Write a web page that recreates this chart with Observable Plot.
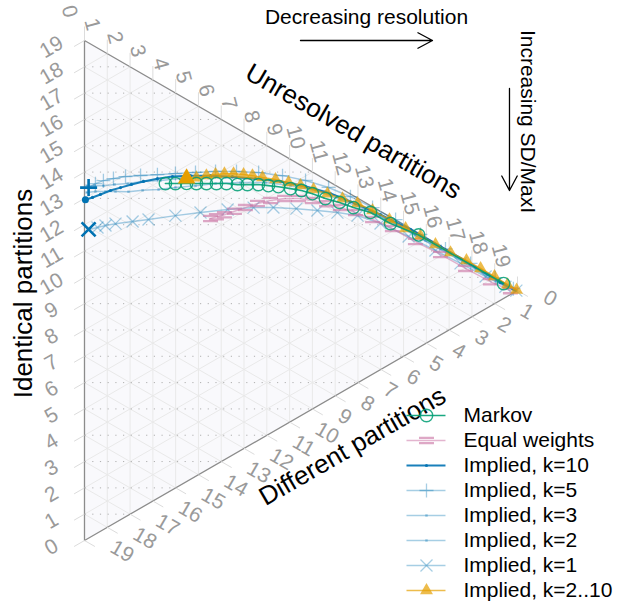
<!DOCTYPE html>
<html><head><meta charset="utf-8">
<script src="https://cdn.jsdelivr.net/npm/d3@7"></script>
<script src="https://cdn.jsdelivr.net/npm/@observablehq/plot@0.6"></script>
<style>body{margin:0;background:#fff}#chart{width:617px;height:605px}</style>
</head><body><div id="chart"></div>
<script>
// ---- data (ternary counts out of 19: Identical, Unresolved; Different = 19 - both) ----
const TOTAL = 19;
const tickValues = [0,1,2,3,4,5,6,7,8,9,10,11,12,13,14,15,16,17,18,19];

const markovIdentical  = [11.79,11.57,11.33,11.11,10.89,10.67,10.45,10.17,9.95,9.71,9.45,9.19,8.85,8.54,8.18,7.71,7.25,6.75,6.19,5.33,4.28,0.57];
const markovUnresolved = [3.55,3.99,4.48,4.91,5.35,5.79,6.23,6.71,7.15,7.63,8.07,8.51,9.04,9.52,10.00,10.57,11.19,11.80,12.55,13.43,14.66,18.39];

const equalIdentical  = [9.47,9.41,9.31,9.22,9.12,9.01,8.84,8.61,8.30,7.92,7.49,7.04,6.52,5.88,5.10,4.10,3.06,1.98,0.93,0.15];
const equalUnresolved = [5.53,5.79,6.14,6.58,7.06,7.59,8.16,8.78,9.39,10.00,10.62,11.23,11.89,12.64,13.51,14.52,15.62,16.72,17.81,18.69];

const k10Identical  = [12.93,12.86,12.80,12.73,12.62,12.50,12.35,12.15,11.90,11.54,11.10,10.58,10.00,9.34,8.60,7.79,6.86,5.89,4.66,3.36,2.02,0.68,0.10];
const k10Unresolved = [0.04,0.35,0.70,1.14,1.58,2.06,2.59,3.20,3.86,4.65,5.53,6.49,7.50,8.60,9.70,10.79,11.89,12.99,14.31,15.62,16.94,18.25,18.87];

const k5Identical  = [13.32,13.32,13.26,13.12,12.93,12.64,12.30,11.95,11.55,11.15,10.69,10.16,9.52,8.83,8.06,7.23,6.33,5.37,4.26,3.16,2.06,0.97,0.16];
const k5Unresolved = [0.18,0.48,0.83,1.27,1.80,2.46,3.20,3.99,4.87,5.75,6.67,7.64,8.69,9.70,10.71,11.67,12.64,13.65,14.74,15.84,16.94,18.03,18.82];

const k3Identical  = [13.18,13.02,12.80,12.58,12.29,12.03,11.71,11.42,11.05,10.69,10.18,9.63,8.97,8.23,7.34,6.41,5.41,4.33,3.25,2.17,1.05,0.15];
const k3Unresolved = [0.09,0.48,0.92,1.36,1.93,2.55,3.25,3.99,4.87,5.75,6.85,7.94,9.04,10.14,11.23,12.33,13.43,14.52,15.62,16.72,17.82,18.78];

const k2Identical  = [13.44,13.27,13.07,12.87,12.62,12.37,12.01,11.65,11.20,10.70,10.11,9.49,8.79,7.97,7.04,6.04,5.00,3.92,2.84,1.76,0.68,0.06];
const k2Unresolved = [0.09,0.44,0.83,1.32,1.89,2.55,3.34,4.21,5.18,6.19,7.28,8.38,9.48,10.58,11.67,12.77,13.87,14.96,16.06,17.16,18.25,18.87];

const k1Identical  = [11.73,11.61,11.51,11.36,11.07,10.79,10.35,9.92,9.44,8.94,8.51,7.96,7.43,6.91,6.36,5.55,4.44,3.32,2.28,1.23,0.41,0.02];
const k1Unresolved = [0.18,0.57,0.92,1.36,2.11,2.81,3.99,5.09,6.28,7.42,8.29,9.30,10.22,11.10,11.98,12.99,14.22,15.40,16.50,17.60,18.47,18.95];

const kAllIdentical  = [11.52,11.33,11.19,11.03,10.87,10.67,10.42,10.18,9.89,9.53,9.13,8.75,8.31,7.85,7.33,6.82,6.22,5.50,4.81,4.21,3.55,2.91,2.26,1.65,1.04,0.44,0.04];
const kAllUnresolved = [4.48,4.91,5.35,5.75,6.14,6.54,6.98,7.37,7.81,8.38,8.95,9.48,10.05,10.66,11.32,11.98,12.64,13.38,14.09,14.74,15.40,16.06,16.76,17.38,17.99,18.56,18.96];

const axisTitles = ["Identical partitions", "Unresolved partitions", "Different partitions"];
const annotations = ["Decreasing resolution", "Increasing SD/MaxI"];

// ---- geometry helpers ----
const S = Math.sqrt(3) / 2;
const W = TOTAL * S;
const proj = (a, b) => ({x: b * S, y: a + b / 2});
// layout (pixel) helpers for annotations / legend
const X0 = 84, Y0 = 540, K = 500 / TOTAL;
const ix = px => (px - X0) / K, iy = py => (Y0 - py) / K;

const BLUE = "#0072B2", GREEN = "#009E73", PINK = "#CC79A7", ORANGE = "#E69F00";
const eqSymbol = {draw(ctx) { const w = 7.5, h = 2.6; ctx.moveTo(-w, -h); ctx.lineTo(w, -h); ctx.moveTo(-w, h); ctx.lineTo(w, h); }};
const plusSymbol = (half) => ({draw(ctx) { ctx.moveTo(-half, 0); ctx.lineTo(half, 0); ctx.moveTo(0, -half); ctx.lineTo(0, half); }});
const timesSymbol = (half) => ({draw(ctx) { ctx.moveTo(-half, -half); ctx.lineTo(half, half); ctx.moveTo(-half, half); ctx.lineTo(half, -half); }});

const styles = {
  "Markov":          {ident: markovIdentical, unres: markovUnresolved, color: GREEN, lo: 0.9, lw: 1.6, symbol: "circle", r: 6.2, fill: false, mo: 0.85, mw: 1.4},
  "Equal weights":   {ident: equalIdentical, unres: equalUnresolved, color: PINK, lo: 0.55, lw: 1.5, symbol: eqSymbol, r: 4, fill: false, mo: 0.65, mw: 2.3},
  "Implied, k=10":   {ident: k10Identical, unres: k10Unresolved, color: BLUE, lo: 0.9, lw: 2, symbol: "circle", r: 1.6, fill: true, mo: 0.9, start: {symbol: "circle", r: 3.5, fill: true, w: 0}},
  "Implied, k=5":    {ident: k5Identical, unres: k5Unresolved, color: BLUE, lo: 0.35, lw: 1.5, symbol: plusSymbol(7), r: 4, fill: false, mo: 0.35, mw: 1.3, start: {symbol: plusSymbol(8.5), r: 4, fill: false, w: 2.6}},
  "Implied, k=3":    {ident: k3Identical, unres: k3Unresolved, color: BLUE, lo: 0.35, lw: 1.5, symbol: "square", r: 1.4, fill: true, mo: 0.35},
  "Implied, k=2":    {ident: k2Identical, unres: k2Unresolved, color: BLUE, lo: 0.35, lw: 1.5, symbol: "square", r: 1.4, fill: true, mo: 0.35},
  "Implied, k=1":    {ident: k1Identical, unres: k1Unresolved, color: BLUE, lo: 0.35, lw: 1.5, symbol: timesSymbol(6), r: 4, fill: false, mo: 0.35, mw: 1.3, start: {symbol: timesSymbol(7), r: 4, fill: false, w: 2.6}},
  "Implied, k=2..10":{ident: kAllIdentical, unres: kAllUnresolved, color: ORANGE, lo: 0.7, lw: 1.5, symbol: "triangle", r: 4.8, fill: true, mo: 0.7, start: {symbol: "triangle", r: 6.5, fill: true, w: 0}}
};
const drawOrder = ["Implied, k=1","Implied, k=2","Implied, k=3","Implied, k=5","Implied, k=10","Equal weights","Implied, k=2..10","Markov"];
const legendOrder = ["Markov","Equal weights","Implied, k=10","Implied, k=5","Implied, k=3","Implied, k=2","Implied, k=1","Implied, k=2..10"];

const dotOpts = (st, op, w) => st.fill
  ? {fill: st.color, fillOpacity: op, stroke: "none"}
  : {fill: "none", stroke: st.color, strokeOpacity: op, strokeWidth: w};

const marks = [];
// triangle background
marks.push(Plot.areaY([{x: 0, y1: 0, y2: TOTAL}, {x: W, y1: TOTAL / 2, y2: TOTAL / 2}], {x: "x", y1: "y1", y2: "y2", fill: "#f9f9fc"}));
// grid lines
const inner = tickValues.filter(k => k > 0 && k < TOTAL);
const gridStyle = {stroke: "#e9e9e9", strokeWidth: 1};
marks.push(Plot.link(inner, {x1: k => proj(k, 0).x, y1: k => proj(k, 0).y, x2: k => proj(k, TOTAL - k).x, y2: k => proj(k, TOTAL - k).y, ...gridStyle}));
marks.push(Plot.link(inner, {x1: k => proj(0, k).x, y1: k => proj(0, k).y, x2: k => proj(TOTAL - k, k).x, y2: k => proj(TOTAL - k, k).y, ...gridStyle}));
marks.push(Plot.link(inner, {x1: k => proj(TOTAL - k, 0).x, y1: k => proj(TOTAL - k, 0).y, x2: k => proj(0, TOTAL - k).x, y2: k => proj(0, TOTAL - k).y, ...gridStyle}));
// horizontal dotted lines
marks.push(Plot.link(inner, {x1: 0, y1: k => k, x2: k => (k <= TOTAL / 2 ? k : TOTAL - k) * Math.sqrt(3), y2: k => k, stroke: "#b0b0b0", strokeWidth: 1, strokeDasharray: "1.2,6.5"}));
// outline
marks.push(Plot.line([proj(TOTAL, 0), proj(0, TOTAL), proj(0, 0), proj(TOTAL, 0)], {x: "x", y: "y", stroke: "#8c8c8c", strokeWidth: 1.3}));
// ticks
const TL = 12 / K, TT = 14 / K;
const tickStyle = {stroke: "#dcdcdc", strokeWidth: 1};
marks.push(Plot.link(tickValues, {x1: 0, y1: k => k, x2: -S * TL, y2: k => k - 0.5 * TL, ...tickStyle}));
marks.push(Plot.link(tickValues, {x1: k => k * S, y1: k => TOTAL - k / 2, x2: k => k * S, y2: k => TOTAL - k / 2 + TT, ...tickStyle}));
marks.push(Plot.link(tickValues, {x1: k => (TOTAL - k) * S, y1: k => (TOTAL - k) / 2, x2: k => (TOTAL - k) * S + S * TL, y2: k => (TOTAL - k) / 2 - 0.5 * TL, ...tickStyle}));
// tick labels
const tickText = {fill: "#9a9a9a", fontSize: 21, text: d => String(d)};
marks.push(Plot.text(tickValues, {x: 0, y: k => k, dx: -33, dy: 6.5, rotate: -30, textAnchor: "middle", ...tickText}));
marks.push(Plot.text(tickValues, {x: k => k * S, y: k => TOTAL - k / 2, dx: -13.5, dy: -23.5, rotate: 75, textAnchor: "end", ...tickText}));
marks.push(Plot.text(tickValues, {x: k => (TOTAL - k) * S, y: k => (TOTAL - k) / 2, dx: 27.5, dy: 5, rotate: 30, textAnchor: "start", ...tickText}));

// series
for (const name of drawOrder) {
  const st = styles[name];
  const pts = st.ident.map((a, i) => proj(a, st.unres[i]));
  marks.push(Plot.line(pts, {x: "x", y: "y", stroke: st.color, strokeOpacity: st.lo, strokeWidth: st.lw}));
  marks.push(Plot.dot(pts, {x: "x", y: "y", symbol: st.symbol, r: st.r, ...dotOpts(st, st.mo, st.mw)}));
}
for (const name of drawOrder) {
  const st = styles[name];
  if (!st.start) continue;
  const p0 = [proj(st.ident[0], st.unres[0])];
  const s = st.start;
  marks.push(Plot.dot(p0, {x: "x", y: "y", symbol: s.symbol, r: s.r, ...(s.fill ? {fill: st.color, stroke: "none"} : {fill: "none", stroke: st.color, strokeWidth: s.w})}));
}

// axis titles
const titleStyle = {fontSize: 26, fill: "#000", textAnchor: "middle"};
marks.push(Plot.text([axisTitles[0]], {x: () => ix(23.5), y: () => iy(293), rotate: -90, text: d => d, ...titleStyle}));
marks.push(Plot.text([axisTitles[1]], {x: () => ix(353), y: () => iy(131), rotate: 30, text: d => d, ...titleStyle}));
marks.push(Plot.text([axisTitles[2]], {x: () => ix(352), y: () => iy(446), rotate: -30, text: d => d, ...titleStyle}));

// annotations
marks.push(Plot.text([annotations[0]], {x: () => ix(366), y: () => iy(17), text: d => d, fontSize: 21, fill: "#000", textAnchor: "middle"}));
marks.push(Plot.text([annotations[1]], {x: () => ix(527), y: () => iy(121), text: d => d, fontSize: 21, fill: "#000", textAnchor: "middle", rotate: 90}));
marks.push(Plot.arrow([0], {x1: () => ix(300), y1: () => iy(40), x2: () => ix(432), y2: () => iy(40), stroke: "#000", strokeWidth: 1.3, headLength: 19, headAngle: 56}));
marks.push(Plot.arrow([0], {x1: () => ix(509), y1: () => iy(88), x2: () => ix(509), y2: () => iy(190), stroke: "#000", strokeWidth: 1.3, headLength: 19, headAngle: 56}));

// legend
legendOrder.forEach((name, i) => {
  const st = styles[name];
  const yy = iy(415 + 25 * i);
  marks.push(Plot.link([0], {x1: () => ix(406), x2: () => ix(445), y1: () => yy, y2: () => yy, stroke: st.color, strokeOpacity: st.lo, strokeWidth: st.lw}));
  marks.push(Plot.dot([0], {x: () => ix(426), y: () => yy, symbol: st.symbol, r: st.r, ...dotOpts(st, st.mo, st.mw)}));
  marks.push(Plot.text([name], {x: () => ix(463), y: () => yy, text: d => d, fontSize: 21, fill: "#000", textAnchor: "start"}));
});

const chart = Plot.plot({
  width: 617, height: 605,
  marginLeft: 84, marginRight: 100, marginTop: 40, marginBottom: 65,
  x: {domain: [0, W], axis: null},
  y: {domain: [0, TOTAL], axis: null},
  style: {fontFamily: "'Liberation Sans', Arial, Helvetica, sans-serif", background: "#fff", overflow: "visible"},
  marks
});
document.getElementById("chart").appendChild(chart);
</script>
</body></html>
